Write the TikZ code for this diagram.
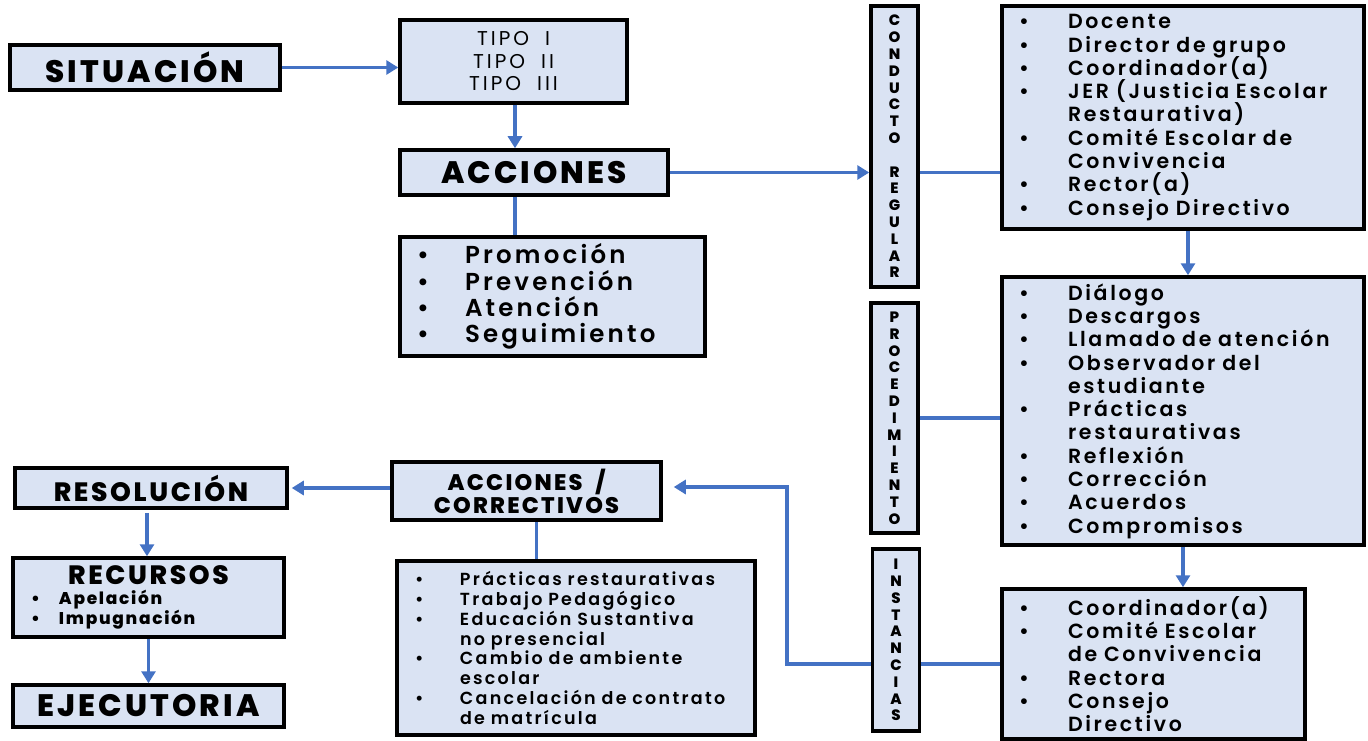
\documentclass[tikz,border=0pt]{standalone}
\usepackage{fontspec}
\setmainfont{Poppins}[UprightFont=* SemiBold, BoldFont=* ExtraBold, LetterSpace=13, WordSpace=2, BoldFeatures={LetterSpace=10}]
\newfontface\delgado{Poppins}[LetterSpace=15]
\usetikzlibrary{arrows.meta,positioning}
\definecolor{fondocaja}{HTML}{DAE3F3}
\definecolor{azulflecha}{HTML}{4472C4}
\newcommand{\punto}[1][49pt]{\makebox[#1][l]{\textbullet}}
\newcommand{\sigue}[1][49pt]{\hspace*{#1}}
\newcommand{\apretado}{\lineskiplimit=-20pt\relax}
\tikzstyle{caja}     = [draw=black, line width=3.5pt, fill=fondocaja, inner sep=0pt]
\tikzstyle{titulo}   = [caja, font=\bfseries\fontsize{31}{32}\selectfont]
\tikzstyle{lista}    = [caja, align=left, font=\fontsize{20.5}{23.3}\selectfont\apretado]
\tikzstyle{vertical} = [caja, align=center, minimum width=47pt, font=\bfseries\fontsize{15}{16.8}\selectfont\apretado]
\tikzstyle{arrow}    = [line width=3.5pt, draw=azulflecha, -{Triangle[length=12pt,width=14pt]}]
\tikzstyle{linea}    = [line width=3.5pt, draw=azulflecha]

\begin{document}
\begin{tikzpicture}[x=1pt, y=-1pt]
    \useasboundingbox (0,0) rectangle (1368,741);

    % columna izquierda
    \node[titulo, minimum width=270pt, minimum height=45pt] (situacion) at (145,67.5) {SITUACIÓN};
    \node[caja, minimum width=227pt, minimum height=83pt, align=center, font=\delgado\fontsize{20}{22.5}\selectfont] (tipos) at (513.5,61.5)
        {TIPO\hspace{16pt}I\\TIPO\hspace{16pt}II\\TIPO\hspace{16pt}III};
    \node[titulo, minimum width=268pt, minimum height=45pt] (acciones) at (534,172.5) {ACCIONES};
    \node[lista, minimum width=305pt, minimum height=119pt, text width=271pt, font=\fontsize{24.5}{26.3}\selectfont\apretado] (promocion) at (552.5,296.5)
        {\punto[48pt]Promoción\\
         \punto[48pt]Prevención\\
         \punto[48pt]Atención\\
         \punto[48pt]Seguimiento};

    % etiquetas verticales
    \node[vertical, minimum height=281pt] (conducto) at (894.5,146.5)
        {C\\O\\N\\D\\U\\C\\T\\O\\[16.8pt]R\\E\\G\\U\\L\\A\\R};
    \node[vertical, minimum height=230pt] (procedimiento) at (894.5,418)
        {P\\R\\O\\C\\E\\D\\I\\M\\I\\E\\N\\T\\O};
    \node[vertical, minimum height=182pt] (instancias) at (896,640)
        {I\\N\\S\\T\\A\\N\\C\\I\\A\\S};

    % listas de la derecha
    \node[lista, minimum width=362pt, minimum height=223pt, text width=328pt] (docente) at (1183,117.5)
        {\punto Docente\\
         \punto Director de grupo\\
         \punto Coordinador(a)\\
         \punto JER (Justicia Escolar\\
         \sigue Restaurativa)\\
         \punto Comité Escolar de\\
         \sigue Convivencia\\
         \punto Rector(a)\\
         \punto Consejo Directivo};
    \node[lista, minimum width=362pt, minimum height=268pt, text width=328pt] (dialogo) at (1183,411)
        {\punto Diálogo\\
         \punto Descargos\\
         \punto Llamado de atención\\
         \punto Observador del\\
         \sigue estudiante\\
         \punto Prácticas\\
         \sigue restaurativas\\
         \punto Reflexión\\
         \punto Corrección\\
         \punto Acuerdos\\
         \punto Compromisos};
    \node[lista, minimum width=303pt, minimum height=150pt, text width=269pt] (coordinador) at (1153.5,664)
        {\punto Coordinador(a)\\
         \punto Comité Escolar\\
         \sigue de Convivencia\\
         \punto Rectora\\
         \punto Consejo\\
         \sigue Directivo};

    % parte inferior
    \node[titulo, minimum width=269pt, minimum height=58pt, align=center, font=\bfseries\fontsize{22.5}{23}\selectfont] (correctivos) at (526.5,491)
        {ACCIONES /\\CORRECTIVOS};
    \node[lista, minimum width=358pt, minimum height=174pt, text width=322pt, font=\fontsize{17.5}{19.9}\selectfont\apretado] (practicas) at (576,648)
        {\punto[45pt]Prácticas restaurativas\\
         \punto[45pt]Trabajo Pedagógico\\
         \punto[45pt]Educación Sustantiva\\
         \sigue[45pt]no presencial\\
         \punto[45pt]Cambio de ambiente\\
         \sigue[45pt]escolar\\
         \punto[45pt]Cancelación de contrato\\
         \sigue[45pt]de matrícula};
    \node[titulo, minimum width=272pt, minimum height=40pt, font=\bfseries\fontsize{26.5}{27}\selectfont] (resolucion) at (151,488) {RESOLUCIÓN};
    \node[caja, minimum width=271pt, minimum height=79pt, align=left, text width=235pt, font=\bfseries\fontsize{17}{20}\selectfont\apretado] (recursos) at (148.5,597.5)
        {\makebox[235pt]{\fontsize{26.5}{22}\selectfont RECURSOS}\\
         \punto[28pt]Apelación\\
         \punto[28pt]Impugnación};
    \node[titulo, minimum width=271pt, minimum height=42pt, font=\bfseries\fontsize{31}{30}\selectfont] (ejecutoria) at (148.5,706) {EJECUTORIA};

    % conectores
    \draw[arrow] (situacion.east) -- (situacion.east -| tipos.west);
    \draw[arrow] ([xshift=1.5pt]tipos.south) -- ([xshift=1.5pt]tipos.south |- acciones.north);
    \draw[linea] ([xshift=1.5pt]tipos.south |- acciones.south) -- ([xshift=1.5pt]tipos.south |- promocion.north);
    \draw[arrow] (acciones.east) -- (acciones.east -| conducto.west);
    \draw[linea] (conducto.east |- acciones.east) -- (acciones.east -| docente.west);
    \draw[arrow] ([xshift=5pt]docente.south) -- ([xshift=5pt]docente.south |- dialogo.north);
    \draw[linea] (procedimiento.east) -- (procedimiento.east -| dialogo.west);
    \draw[arrow] (dialogo.south) -- (dialogo.south |- coordinador.north);
    \draw[linea] (instancias.east |- coordinador.west) -- (coordinador.west);
    \draw[arrow] (instancias.west |- coordinador.west) -| ([xshift=124pt,yshift=4pt]correctivos.east) -- ([xshift=11pt,yshift=4pt]correctivos.east);
    \draw[arrow] (correctivos.west |- resolucion.east) -- ([xshift=3pt]resolucion.east);
    \draw[linea] ([xshift=10pt]correctivos.south) -- ([xshift=10pt]correctivos.south |- practicas.north);
    \draw[arrow] ([xshift=-4pt,yshift=-3pt]resolucion.south) -- ([xshift=-4pt]resolucion.south |- recursos.north);
    \draw[arrow] (recursos.south) -- (recursos.south |- ejecutoria.north);
\end{tikzpicture}
\end{document}
